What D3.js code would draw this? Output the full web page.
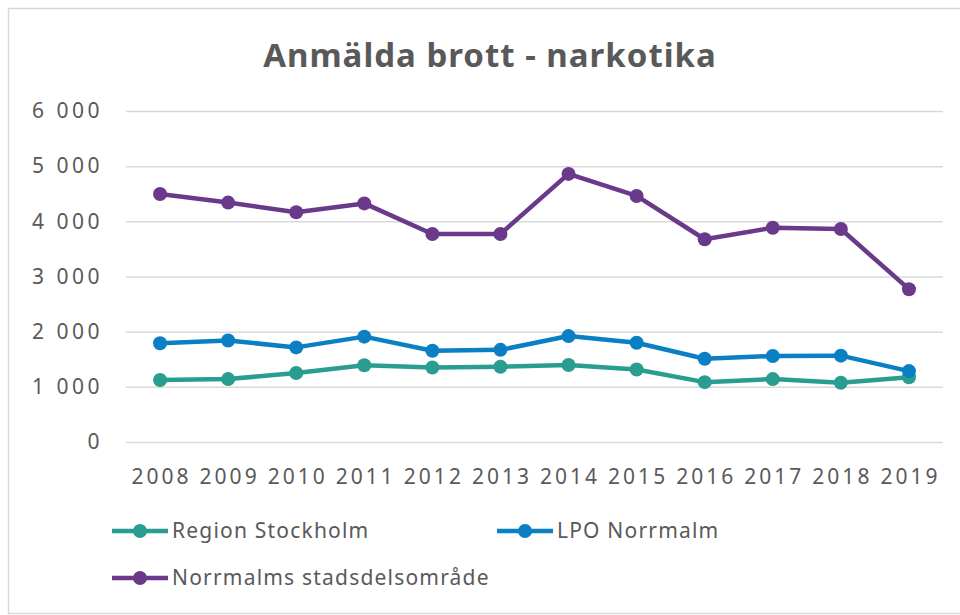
<!DOCTYPE html>
<html>
<head>
<meta charset="utf-8">
<script src="https://cdn.jsdelivr.net/npm/d3@7"></script>
<style>
  body { margin: 0; background: #fff; }
  text { font-family: "Noto Sans", "Open Sans", sans-serif; fill: #595959; }
</style>
</head>
<body>
<div id="chart"></div>
<script>
// ---- data ----
const years = ["2008", "2009", "2010", "2011", "2012", "2013", "2014", "2015", "2016", "2017", "2018", "2019"];
const regionStockholm = [1125, 1140, 1250, 1390, 1350, 1365, 1395, 1315, 1085, 1140, 1075, 1175];
const lpoNorrmalm = [1790, 1840, 1715, 1910, 1655, 1670, 1920, 1800, 1510, 1560, 1565, 1285];
const norrmalmsSdo = [4495, 4340, 4165, 4325, 3770, 3770, 4860, 4460, 3675, 3885, 3860, 2770];
const yTicks = [0, 1000, 2000, 3000, 4000, 5000, 6000];

const series = [
    {name: "Region Stockholm", values: regionStockholm, color: "#2a9d91"},
    {name: "LPO Norrmalm", values: lpoNorrmalm, color: "#0a7fc4"},
    {name: "Norrmalms stadsdelsområde", values: norrmalmsSdo, color: "#6a398a"}
];

const W = 960, H = 615;
const plot = {left: 126, right: 943, top: 111, bottom: 442};

const svg = d3.select("#chart").append("svg")
    .attr("width", W)
    .attr("height", H);

// outer frame (right edge runs off the picture)
svg.append("rect")
    .attr("x", 8.5).attr("y", 8.5)
    .attr("width", W + 10).attr("height", 605)
    .attr("fill", "#fff")
    .attr("stroke", "#d9d9d9")
    .attr("stroke-width", 1.5);

const x = d3.scaleBand()
    .domain(years)
    .range([plot.left, plot.right]);
const y = d3.scaleLinear()
    .domain([0, 6000])
    .range([plot.bottom, plot.top]);

const fmt = d3.formatLocale({decimal: ",", thousands: " ", grouping: [3], currency: ["", " kr"]}).format(",d");

// gridlines + y labels
const yAxis = svg.append("g")
    .attr("transform", "translate(" + plot.left + ",0)")
    .call(d3.axisLeft(y).tickValues(yTicks).tickFormat(fmt)
        .tickSize(-(plot.right - plot.left)).tickPadding(23));
yAxis.select(".domain").remove();
yAxis.selectAll("line").attr("stroke", "#d9d9d9").attr("stroke-width", 1.5);
yAxis.selectAll("text")
    .attr("fill", "#595959")
    .attr("letter-spacing", 3.5)
    .style("font-size", "21px");

// x labels
const xAxis = svg.append("g")
    .attr("transform", "translate(0," + plot.bottom + ")")
    .call(d3.axisBottom(x).tickSize(0).tickPadding(27));
xAxis.select(".domain").remove();
xAxis.selectAll("text")
    .attr("fill", "#595959")
    .attr("letter-spacing", 3)
    .attr("dx", 1.5)
    .style("font-size", "21px");

const cx = (d, i) => x(years[i]) + x.bandwidth() / 2;
const line = d3.line()
    .x((d, i) => cx(d, i))
    .y(d => y(d));

series.forEach(s => {
    const g = svg.append("g");
    g.append("path")
        .datum(s.values)
        .attr("fill", "none")
        .attr("stroke", s.color)
        .attr("stroke-width", 4.5)
        .attr("stroke-linejoin", "round")
        .attr("d", line);
    g.selectAll("circle")
        .data(s.values)
        .enter()
        .append("circle")
        .attr("cx", cx)
        .attr("cy", d => y(d))
        .attr("r", 7)
        .attr("fill", s.color);
});

// title
svg.append("text")
    .attr("x", 490)
    .attr("y", 67)
    .attr("text-anchor", "middle")
    .attr("letter-spacing", 1)
    .style("font-size", "33px")
    .style("font-weight", "bold")
    .text("Anmälda brott - narkotika");

// legend
const legendPos = [
    {x: 112, y: 531},
    {x: 497, y: 531},
    {x: 112, y: 578}
];
series.forEach((s, i) => {
    const p = legendPos[i];
    const lg = svg.append("g").attr("transform", "translate(" + p.x + "," + p.y + ")");
    lg.append("line")
        .attr("x1", 0).attr("x2", 56)
        .attr("stroke", s.color)
        .attr("stroke-width", 4.5);
    lg.append("circle")
        .attr("cx", 28)
        .attr("r", 7)
        .attr("fill", s.color);
    lg.append("text")
        .attr("x", 60)
        .attr("dy", "0.35em")
        .attr("letter-spacing", 1.2)
        .style("font-size", "21px")
        .text(s.name);
});
</script>
</body>
</html>
